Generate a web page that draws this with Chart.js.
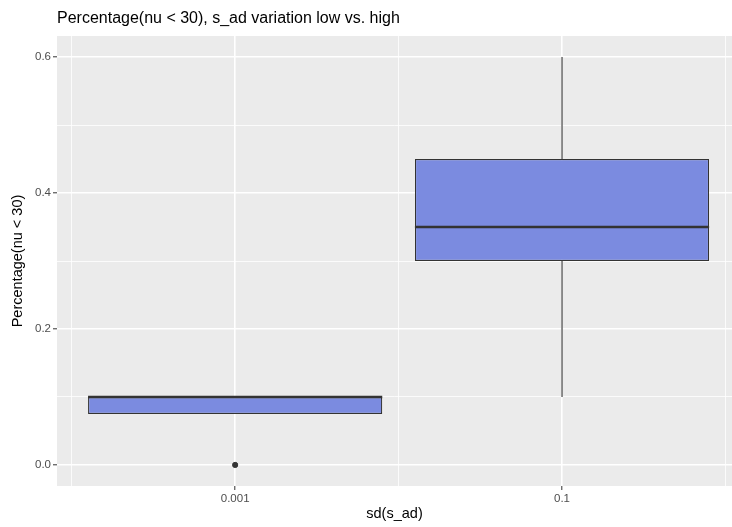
<!DOCTYPE html>
<html>
<head>
<meta charset="utf-8">
<script src="https://cdn.jsdelivr.net/npm/chart.js@4/dist/chart.umd.min.js"></script>
<style>
  html, body { margin: 0; padding: 0; background: #ffffff; }
  #wrap { width: 732px; height: 527px; }
</style>
</head>
<body>
<div id="wrap"><canvas id="boxChart"></canvas></div>
<script>
// categories and box statistics (one entry per category)
const categories = ['0.001', '0.1'];
const catPos = [1, 2];
const lowerWhisker = [0.075, 0.1];
const q1 = [0.075, 0.3];
const median = [0.1, 0.35];
const q3 = [0.1, 0.45];
const upperWhisker = [0.1, 0.6];
const outliers = [[0], []];

const yTicks = [0, 0.1, 0.2, 0.3, 0.4, 0.5, 0.6];
const yMajor = [0, 0.2, 0.4, 0.6];
const xTicks = [0.5, 1, 1.5, 2, 2.5];

const boxHalf = 0.45;
const boxFill = '#7B8BE0';
const ink = '#333333';

const boxData = catPos.map((x, i) => ({ x: x, y: [q1[i], q3[i]] }));

const medianData = [];
catPos.forEach((x, i) => {
    medianData.push({ x: x - boxHalf, y: median[i] });
    medianData.push({ x: x + boxHalf, y: median[i] });
    medianData.push({ x: x, y: null });
});

const whiskerData = [];
catPos.forEach((x, i) => {
    whiskerData.push({ x: x, y: q3[i] }, { x: x, y: upperWhisker[i] }, { x: x, y: null });
    whiskerData.push({ x: x, y: lowerWhisker[i] }, { x: x, y: q1[i] }, { x: x, y: null });
});

const outlierData = [];
catPos.forEach((x, i) => {
    outliers[i].forEach(v => outlierData.push({ x: x, y: v }));
});

const isMajorY = c => !!c.tick && yMajor.some(m => Math.abs(m - c.tick.value) < 1e-9);
const isMajorX = c => !!c.tick && catPos.includes(c.tick.value);

// grey panel behind the grid
const panelBg = {
    id: 'panelBg',
    beforeDraw(chart) {
        const { ctx, chartArea: a } = chart;
        ctx.save();
        ctx.fillStyle = '#EBEBEB';
        ctx.fillRect(a.left, a.top, a.right - a.left, a.bottom - a.top);
        ctx.restore();
    }
};

const ctx = document.getElementById('boxChart').getContext('2d');
const boxChart = new Chart(ctx, {
    data: {
        datasets: [
            {
                type: 'bar',
                label: 'box',
                data: boxData,
                backgroundColor: boxFill,
                borderColor: ink,
                borderWidth: 1.2,
                borderSkipped: false,
                categoryPercentage: 1,
                // bar ruler uses the half-unit tick spacing, so 0.9 of a unit = 1.8 of it
                barPercentage: 1.8,
                order: 2
            },
            {
                type: 'line',
                label: 'median',
                data: medianData,
                borderColor: ink,
                borderWidth: 2.4,
                pointRadius: 0,
                spanGaps: false,
                order: 0
            },
            {
                type: 'line',
                label: 'whisker',
                data: whiskerData,
                borderColor: ink,
                borderWidth: 1.1,
                pointRadius: 0,
                spanGaps: false,
                order: 3
            },
            {
                type: 'scatter',
                label: 'outlier',
                data: outlierData,
                backgroundColor: ink,
                borderColor: ink,
                pointRadius: 2.6,
                order: 1
            }
        ]
    },
    options: {
        responsive: true,
        maintainAspectRatio: false,
        animation: false,
        layout: { padding: 0, autoPadding: false },
        plugins: {
            legend: { display: false },
            tooltip: { enabled: false },
            title: {
                display: true,
                text: 'Percentage(nu < 30), s_ad variation low vs. high',
                align: 'start',
                fullSize: false,
                color: '#000000',
                font: { family: 'Liberation Sans, Arial, sans-serif', size: 16, weight: 'normal' },
                padding: { top: 8.5, bottom: 8.3 }
            }
        },
        scales: {
            x: {
                type: 'linear',
                offset: false,
                min: 0.455,
                max: 2.52,
                afterBuildTicks: scale => { scale.ticks = xTicks.map(v => ({ value: v })); },
                afterFit: scale => {
                    scale.height = 41;
                    scale.paddingLeft = 0;
                    scale.paddingRight = 0;
                },
                ticks: {
                    autoSkip: false,
                    maxRotation: 0,
                    padding: 2,
                    color: '#4D4D4D',
                    font: { family: 'Liberation Sans, Arial, sans-serif', size: 11.5 },
                    callback: v => {
                        const i = catPos.indexOf(v);
                        return i >= 0 ? categories[i] : '';
                    }
                },
                grid: {
                    offset: false,
                    color: '#FFFFFF',
                    lineWidth: c => isMajorX(c) ? 1.6 : 0.8,
                    tickColor: c => isMajorX(c) ? ink : 'rgba(0,0,0,0)',
                    tickWidth: 1,
                    tickLength: 4
                },
                border: { display: false },
                title: {
                    display: true,
                    text: 'sd(s_ad)',
                    color: '#000000',
                    font: { family: 'Liberation Sans, Arial, sans-serif', size: 14.5 },
                    padding: { top: 0, bottom: 4 }
                }
            },
            y: {
                type: 'linear',
                min: -0.031,
                max: 0.631,
                afterBuildTicks: scale => { scale.ticks = yTicks.map(v => ({ value: v })); },
                afterFit: scale => {
                    scale.width = 57;
                    scale.paddingTop = 0;
                    scale.paddingBottom = 0;
                },
                ticks: {
                    padding: 2,
                    color: '#4D4D4D',
                    font: { family: 'Liberation Sans, Arial, sans-serif', size: 11.5 },
                    callback: v => yMajor.some(m => Math.abs(m - v) < 1e-9) ? v.toFixed(1) : ''
                },
                grid: {
                    color: '#FFFFFF',
                    lineWidth: c => isMajorY(c) ? 1.6 : 0.8,
                    tickColor: c => isMajorY(c) ? ink : 'rgba(0,0,0,0)',
                    tickWidth: 1,
                    tickLength: 4
                },
                border: { display: false },
                title: {
                    display: true,
                    text: 'Percentage(nu < 30)',
                    color: '#000000',
                    font: { family: 'Liberation Sans, Arial, sans-serif', size: 14.5 },
                    padding: { top: 9, bottom: 0 }
                }
            }
        }
    },
    plugins: [panelBg]
});
</script>
</body>
</html>
